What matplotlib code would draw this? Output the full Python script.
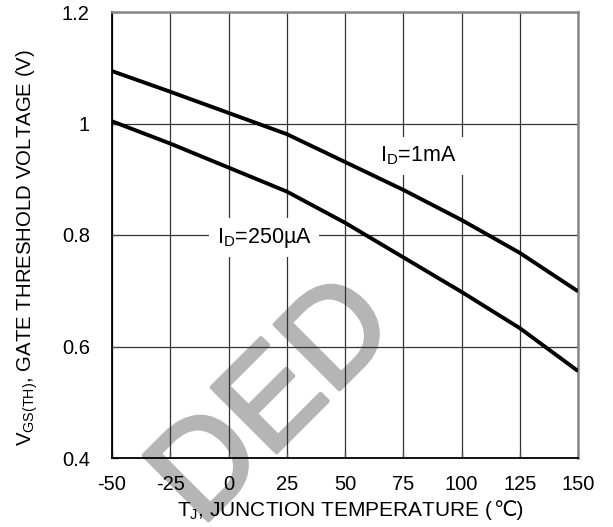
import numpy as np
import matplotlib
matplotlib.use("Agg")
import matplotlib.pyplot as plt
import matplotlib.patheffects as pe
from matplotlib.offsetbox import TextArea, HPacker, AnchoredOffsetbox

plt.rcParams['font.family'] = ['Liberation Sans', 'DejaVu Sans']
plt.rcParams['mathtext.fontset'] = 'custom'
plt.rcParams['mathtext.rm'] = 'Liberation Sans'
plt.rcParams['mathtext.it'] = 'Liberation Sans'

# junction temperature (C)
temp = [-50, -25, 0, 25, 50, 75, 100, 125, 150]
# gate threshold voltage (V)
vth_1ma = [1.094, 1.057, 1.019, 0.981, 0.931, 0.881, 0.827, 0.768, 0.699]
vth_250ua = [1.004, 0.964, 0.921, 0.878, 0.822, 0.760, 0.698, 0.633, 0.556]

xticks = [-50, -25, 0, 25, 50, 75, 100, 125, 150]
yticks = [0.4, 0.6, 0.8, 1.0, 1.2]
yticklabels = ['0.4', '0.6', '0.8', '1', '1.2']

fig = plt.figure(figsize=(6.13, 5.27), dpi=100)
ax = fig.add_axes([112 / 613, 1 - 458 / 527, 466 / 613, 446 / 527])

# faint watermark behind the grid
ax.text(276 / 613, 1 - 404 / 527, 'DED', transform=fig.transFigure,
        fontsize=96, color='#b5b5b5', rotation=45, rotation_mode='anchor',
        ha='center', va='center', zorder=0.5, clip_on=False,
        path_effects=[pe.withStroke(linewidth=3, foreground='#b5b5b5')])

ax.plot(temp, vth_1ma, color='black', lw=2.8, solid_capstyle='butt', zorder=3)
ax.plot(temp, vth_250ua, color='black', lw=2.8, solid_capstyle='butt', zorder=3)

ax.set_xlim(-50, 150)
ax.set_ylim(0.4, 1.2)
ax.set_xticks(xticks)
ax.set_xticklabels([str(t) for t in xticks])
ax.set_yticks(yticks)
ax.set_yticklabels(yticklabels)
ax.tick_params(direction='in', length=4, width=1, color='#555555',
               labelsize=14.5)
ax.tick_params(axis='x', pad=12)
ax.tick_params(axis='y', pad=16)

ax.grid(True, color='#333333', lw=0.9)
for s in ['left', 'bottom']:
    ax.spines[s].set_color('black')
    ax.spines[s].set_linewidth(1.3)
for s in ['top', 'right']:
    ax.spines[s].set_color('#888888')
    ax.spines[s].set_linewidth(1.8)

bbox = dict(boxstyle='square,pad=0.35', fc='white', ec='none')
ax.text(81.3, 0.942, r'I$_\mathregular{D}$=1mA', fontsize=15.5,
        ha='center', va='center', bbox=bbox, zorder=2.5)
ax.text(15.2, 0.795, r'I$_\mathregular{D}$=250µA', fontsize=15.5,
        ha='center', va='center', bbox=bbox, zorder=2.5)

# x label: mathtext part plus plain part so that the degree sign glyph is found
xl1 = TextArea(r'T$_\mathregular{J}$, JUNCTION TEMPERATURE (', textprops=dict(fontsize=15))
xl2 = TextArea('℃)', textprops=dict(fontsize=15))
xlab = HPacker(children=[xl1, xl2], align='baseline', pad=0, sep=0)
box = AnchoredOffsetbox(loc='upper center', child=xlab, pad=0, borderpad=0,
                        frameon=False, bbox_to_anchor=(350 / 613, 1 - 499 / 527),
                        bbox_transform=fig.transFigure)
fig.add_artist(box)

ax.set_ylabel(r'V$_\mathregular{GS(TH)}$, GATE THRESHOLD VOLTAGE (V)', fontsize=14.7)
ax.yaxis.set_label_coords(-0.155, 0.472)

fig.savefig('out.png', dpi=100)
